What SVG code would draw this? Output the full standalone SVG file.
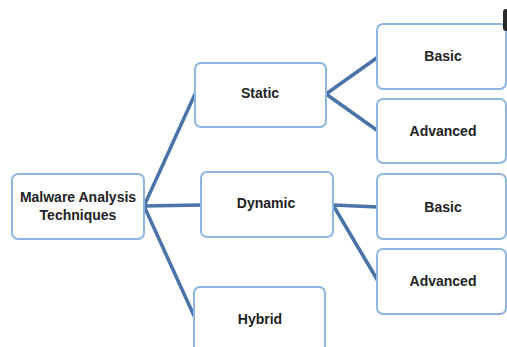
<svg xmlns="http://www.w3.org/2000/svg" width="507" height="347" viewBox="0 0 507 347">
  <style>
    .box { fill: #ffffff; stroke: #8db6e2; stroke-width: 2; }
    .label { font-family: "Liberation Sans", Arial, sans-serif; font-weight: bold; font-size: 14px; fill: #222222; text-anchor: middle; }
    .link { stroke: #4a73a9; stroke-width: 3.5; fill: none; stroke-linecap: round; }
  </style>
  <rect width="507" height="347" fill="#ffffff"/>

  <!-- tree connectors -->
  <g id="connectors">
    <line class="link" x1="144" y1="206" x2="195" y2="94"/>
    <line class="link" x1="144" y1="206" x2="202" y2="205"/>
    <line class="link" x1="144" y1="206" x2="195" y2="318"/>
    <line class="link" x1="326" y1="94" x2="378" y2="57"/>
    <line class="link" x1="326" y1="94" x2="378" y2="131"/>
    <line class="link" x1="333" y1="205" x2="378" y2="207"/>
    <line class="link" x1="333" y1="205" x2="378" y2="281"/>
  </g>

  <g id="root">
    <rect class="box" x="12" y="174" width="132" height="65" rx="6"/>
    <text class="label" x="78" y="202">Malware Analysis</text>
    <text class="label" x="78" y="220">Techniques</text>
  </g>

  <g id="static">
    <rect class="box" x="195" y="63" width="131" height="64" rx="6"/>
    <text class="label" x="260" y="98">Static</text>
  </g>

  <g id="dynamic">
    <rect class="box" x="201" y="172" width="132" height="65" rx="6"/>
    <text class="label" x="266" y="208">Dynamic</text>
  </g>

  <g id="hybrid">
    <rect class="box" x="194" y="287" width="131" height="75" rx="6"/>
    <text class="label" x="260" y="324">Hybrid</text>
  </g>

  <g id="static-basic">
    <rect class="box" x="377" y="24" width="129" height="65" rx="6"/>
    <text class="label" x="443" y="61">Basic</text>
  </g>

  <g id="static-advanced">
    <rect class="box" x="377" y="99" width="129" height="64" rx="6"/>
    <text class="label" x="443" y="136">Advanced</text>
  </g>

  <g id="dynamic-basic">
    <rect class="box" x="377" y="174" width="129" height="65" rx="6"/>
    <text class="label" x="443" y="212">Basic</text>
  </g>

  <g id="dynamic-advanced">
    <rect class="box" x="377" y="249" width="129" height="65" rx="6"/>
    <text class="label" x="443" y="286">Advanced</text>
  </g>

  <!-- dark tab at the top-right edge -->
  <rect x="503" y="9" width="8" height="22" rx="3" fill="#2a2a2a"/>
</svg>
